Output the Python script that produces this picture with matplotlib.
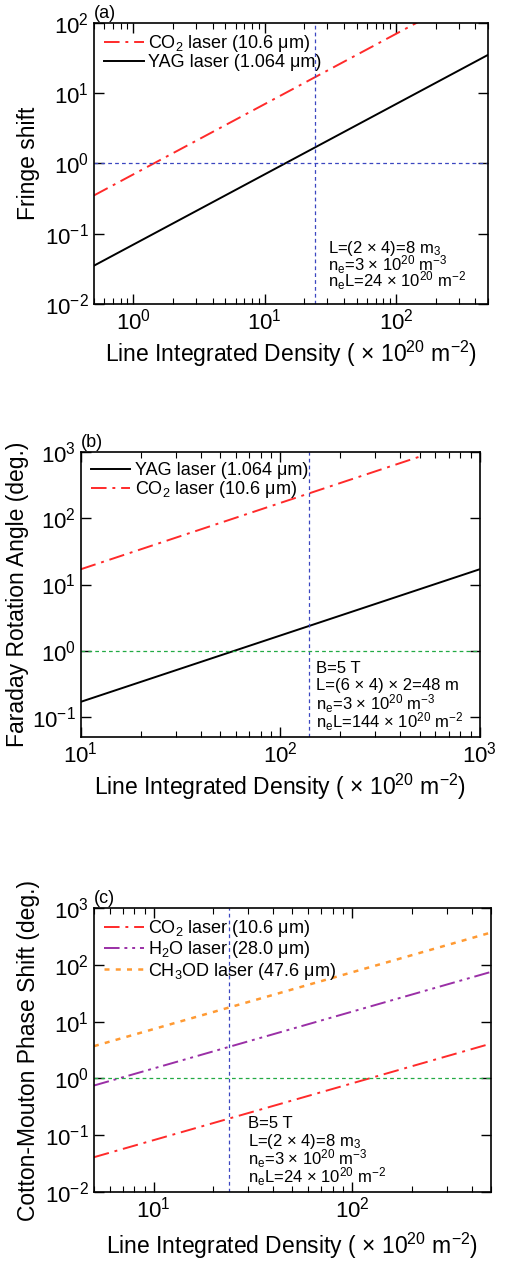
import matplotlib
matplotlib.use("Agg")
import matplotlib.pyplot as plt
from matplotlib.ticker import LogLocator, NullFormatter

plt.rcParams['font.family'] = ['Liberation Sans', 'DejaVu Sans']
plt.rcParams['mathtext.fontset'] = 'custom'
plt.rcParams['mathtext.rm'] = 'Liberation Sans'
plt.rcParams['mathtext.it'] = 'Liberation Sans:italic'
plt.rcParams['mathtext.bf'] = 'Liberation Sans:bold'

# ---------------- data ----------------
# (a) interferometer fringe shift
dens_a = [0.5, 500]
yag_a = [0.035, 35]
co2_a = [0.35, 350]
vline_a = 24
hline_a = 1

# (b) Faraday rotation angle
dens_b_yag = [10, 1000]
yag_b = [0.17, 17]
dens_b_co2 = [10, 500]
co2_b = [17, 850]
vline_b = 140
hline_b = 1

# (c) Cotton-Mouton phase shift
dens_c = [5, 500]
co2_c = [0.041, 4.1]
h2o_c = [0.75, 75]
ch3od_c = [3.7, 370]
vline_c = 24
hline_c = 1

xlabel = "Line Integrated Density ( × 10$^{20}$ m$^{-2}$)"
notes_a = ["L=(2 × 4)=8 m$_3$",
           "n$_\\mathrm{e}$=3 × 10$^{20}$ m$^{-3}$",
           "n$_\\mathrm{e}$L=24 × 10$^{20}$ m$^{-2}$"]
notes_b = ["B=5 T",
           "L=(6 × 4) × 2=48 m",
           "n$_\\mathrm{e}$=3 × 10$^{20}$ m$^{-3}$",
           "n$_\\mathrm{e}$L=144 × 10$^{20}$ m$^{-2}$"]
notes_c = ["B=5 T",
           "L=(2 × 4)=8 m$_3$",
           "n$_\\mathrm{e}$=3 × 10$^{20}$ m$^{-3}$",
           "n$_\\mathrm{e}$L=24 × 10$^{20}$ m$^{-2}$"]

RED = '#ff2a2a'
PURPLE = '#9a2fa6'
ORANGE = '#ff9a33'
BLUE = '#3a46c0'
GREEN = '#22aa44'

LABEL_FS = 16.5
TICK_FS = 16
LEG_FS = 13
NOTE_FS = 12

fig = plt.figure(figsize=(5.05, 12.61), dpi=100)

def style(ax):
    ax.set_xscale('log')
    ax.set_yscale('log')
    ax.tick_params(which='both', direction='in', top=True, right=True, labelsize=TICK_FS)
    ax.tick_params(which='major', length=7, width=1)
    ax.tick_params(which='minor', length=4, width=0.8)
    ax.xaxis.set_minor_locator(LogLocator(base=10, subs=range(2, 10), numticks=20))
    ax.xaxis.set_minor_formatter(NullFormatter())
    ax.yaxis.set_minor_locator(plt.NullLocator())
    for s in ax.spines.values():
        s.set_linewidth(1.2)

def notes(ax, x, ys, lines):
    for y, t in zip(ys, lines):
        ax.text(x, y, t, transform=ax.transAxes, fontsize=NOTE_FS,
                ha='left', va='center_baseline')

def legend(ax):
    ax.legend(loc='upper left', frameon=False, fontsize=LEG_FS, handlelength=2.2,
              handletextpad=0.25, labelspacing=0.02, borderaxespad=0.25,
              borderpad=0.3)

co2_dash = (0, (8, 3, 1.5, 3))
h2o_dash = (0, (8, 2.5, 1.5, 2.5, 1.5, 2.5))
dot_dash = (0, (2, 2.5))
ref_dash = (0, (3, 2.5))

# ---------- (a) ----------
ax = fig.add_axes([0.186, 0.759, 0.780, 0.2228])
style(ax)
ax.plot(dens_a, co2_a, color=RED, lw=1.4, ls=co2_dash, label="CO$_2$ laser (10.6 μm)")
ax.plot(dens_a, yag_a, color='black', lw=1.4, label="YAG laser (1.064 μm)")
ax.axvline(vline_a, color=BLUE, lw=0.9, ls=ref_dash)
ax.axhline(hline_a, color=BLUE, lw=0.9, ls=ref_dash)
ax.set_xlim(0.5, 500)
ax.set_ylim(1e-2, 1e2)
ax.set_ylabel("Fringe shift", fontsize=LABEL_FS)
ax.set_xlabel(xlabel, fontsize=LABEL_FS, labelpad=3)
legend(ax)
ax.text(0.0, 1.005, "(a)", transform=ax.transAxes, fontsize=13, ha='left', va='bottom')
notes(ax, 0.594, [0.207, 0.149, 0.091], notes_a)

# ---------- (b) ----------
ax = fig.add_axes([0.160, 0.4155, 0.790, 0.2261])
style(ax)
ax.plot(dens_b_yag, yag_b, color='black', lw=1.4, label="YAG laser (1.064 μm)")
ax.plot(dens_b_co2, co2_b, color=RED, lw=1.4, ls=co2_dash, label="CO$_2$ laser (10.6 μm)")
ax.axvline(vline_b, color=BLUE, lw=0.9, ls=ref_dash)
ax.axhline(hline_b, color=GREEN, lw=0.9, ls=ref_dash)
ax.set_xlim(10, 1000)
ax.set_ylim(0.05, 1e3)
ax.set_ylabel("Faraday Rotation Angle (deg.)", fontsize=LABEL_FS, labelpad=2)
ax.set_xlabel(xlabel, fontsize=LABEL_FS, labelpad=3)
legend(ax)
ax.text(0.0, 1.005, "(b)", transform=ax.transAxes, fontsize=13, ha='left', va='bottom')
notes(ax, 0.59, [0.247, 0.185, 0.125, 0.063], notes_b)

# ---------- (c) ----------
ax = fig.add_axes([0.186, 0.0547, 0.786, 0.2252])
style(ax)
ax.plot(dens_c, co2_c, color=RED, lw=1.4, ls=co2_dash, label="CO$_2$ laser (10.6 μm)")
ax.plot(dens_c, h2o_c, color=PURPLE, lw=1.4, ls=h2o_dash, label="H$_2$O laser (28.0 μm)")
ax.plot(dens_c, ch3od_c, color=ORANGE, lw=1.8, ls=dot_dash, label="CH$_3$OD laser (47.6 μm)")
ax.axvline(vline_c, color=BLUE, lw=0.9, ls=ref_dash)
ax.axhline(hline_c, color=GREEN, lw=0.9, ls=ref_dash)
ax.set_xlim(5, 500)
ax.set_ylim(1e-2, 1e3)
ax.set_ylabel("Cotton-Mouton Phase Shift (deg.)", fontsize=LABEL_FS)
ax.set_xlabel(xlabel, fontsize=LABEL_FS, labelpad=6)
legend(ax)
ax.text(0.0, 1.005, "(c)", transform=ax.transAxes, fontsize=13, ha='left', va='bottom')
notes(ax, 0.388, [0.248, 0.185, 0.125, 0.063], notes_c)

fig.savefig("out.png", dpi=100)
